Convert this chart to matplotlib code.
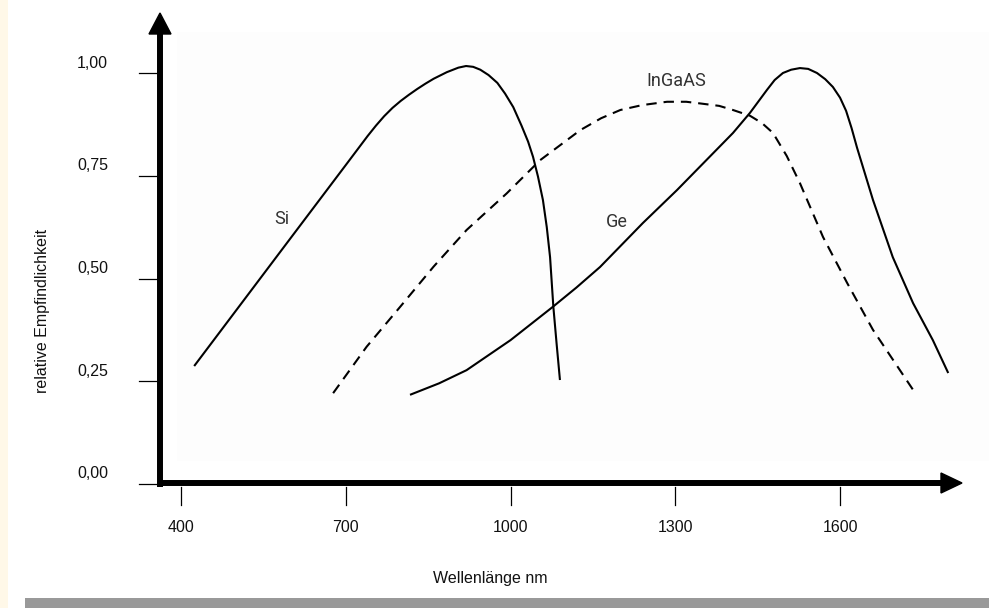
import matplotlib
matplotlib.use("Agg")
import matplotlib.pyplot as plt
from matplotlib.patches import Polygon, Rectangle
from matplotlib.transforms import blended_transform_factory

plt.rcParams['font.family'] = ['Liberation Sans', 'DejaVu Sans']
plt.rcParams['lines.scale_dashes'] = False

# ---- data ----
si_wl = [424, 600, 700, 740, 755, 770, 785, 800, 815, 830, 845, 860, 884, 905, 919,
         932, 945, 960, 976, 990, 1005, 1020, 1032, 1041, 1050, 1059, 1066, 1072, 1078,
         1084, 1090]
si_val = [0.287, 0.599, 0.776, 0.847, 0.872, 0.895, 0.915, 0.932, 0.947, 0.961, 0.974,
          0.986, 1.002, 1.013, 1.017, 1.015, 1.008, 0.995, 0.976, 0.950, 0.917, 0.872,
          0.833, 0.796, 0.748, 0.691, 0.625, 0.552, 0.431, 0.340, 0.253]

ge_wl = [817, 870, 920, 1000, 1077, 1120, 1163, 1241, 1303, 1405, 1436, 1467, 1481,
         1496, 1511, 1527, 1542, 1558, 1573, 1587, 1600, 1611, 1621, 1631, 1660, 1696,
         1733, 1769, 1797]
ge_val = [0.217, 0.245, 0.277, 0.350, 0.431, 0.478, 0.528, 0.635, 0.715, 0.854, 0.903,
          0.959, 0.983, 1.000, 1.008, 1.012, 1.010, 1.000, 0.985, 0.966, 0.940, 0.908,
          0.866, 0.818, 0.691, 0.552, 0.440, 0.350, 0.270]

ingaas_wl = [677, 738, 799, 860, 920, 993, 1054, 1127, 1165, 1200, 1240, 1285, 1320,
             1345, 1380, 1405, 1436, 1458, 1478, 1503, 1527, 1569, 1613, 1660, 1709, 1733]
ingaas_val = [0.221, 0.334, 0.431, 0.529, 0.618, 0.707, 0.788, 0.861, 0.890, 0.910,
              0.922, 0.930, 0.930, 0.926, 0.920, 0.910, 0.896, 0.878, 0.854, 0.798,
              0.732, 0.601, 0.489, 0.375, 0.277, 0.229]

x_ticks = [400, 700, 1000, 1300, 1600]
x_ticklabels = ['400', '700', '1000', '1300', '1600']
y_ticks = [0.0, 0.25, 0.5, 0.75, 1.0]
y_ticklabels = ['0,00', '0,25', '0,50', '0,75', '1,00']

W, H = 989, 608
fig = plt.figure(figsize=(W / 100, H / 100), dpi=100)
fig.patch.set_facecolor('white')

# background decorations
fig.patches.append(Rectangle((0, 0), 8 / W, 1, transform=fig.transFigure,
                             facecolor='#fff8e8', edgecolor='none', zorder=-10))
fig.patches.append(Rectangle((25 / W, 0), 1, 10 / H, transform=fig.transFigure,
                             facecolor='#999999', edgecolor='none', zorder=-10))
fig.patches.append(Rectangle((177 / W, (H - 461) / H), (W - 177) / W, (461 - 32) / H,
                             transform=fig.transFigure, facecolor='#fdfdfd',
                             edgecolor='none', zorder=-10))

# axes: x pixel 160..962, y pixel 484..13
ax = fig.add_axes([160 / W, (H - 484) / H, (962 - 160) / W, (484 - 13) / H])
ax.set_zorder(5)
ax.patch.set_alpha(0)
ppx = 0.5492  # px per nm
ax.set_xlim(400 - 21 / ppx, 400 + (962 - 181) / ppx)
ax.set_ylim(0, (484 - 13) / 411)
for s in ax.spines.values():
    s.set_visible(False)
ax.set_xticks([])
ax.set_yticks([])

lw = 1.5
ax.plot(si_wl, si_val, color='black', lw=lw, solid_capstyle='butt',
        solid_joinstyle='round', zorder=3)
ax.plot(ge_wl, ge_val, color='black', lw=lw, solid_capstyle='butt',
        solid_joinstyle='round', zorder=3)
ax.plot(ingaas_wl, ingaas_val, color='black', lw=lw, dashes=(7.5, 5), zorder=3)

# axis arrows (in pixel-based axes fractions)
axw, axh = 962 - 160, 484 - 13
thick = 4.3
ax.plot([0, 1 - 20 / axw], [1 / axh, 1 / axh], transform=ax.transAxes, color='black',
        lw=thick, clip_on=False, solid_capstyle='butt', zorder=4)
ax.plot([0, 0], [-3 / axh, 1 - 19 / axh], transform=ax.transAxes, color='black',
        lw=thick, clip_on=False, solid_capstyle='butt', zorder=4)
ax.add_patch(Polygon([[1, 1 / axh], [1 - 21 / axw, 11 / axh], [1 - 21 / axw, -9 / axh]],
                     closed=True, transform=ax.transAxes, color='black',
                     clip_on=False, zorder=4))
ax.add_patch(Polygon([[0, 1], [-11 / axw, 1 - 21 / axh], [11 / axw, 1 - 21 / axh]],
                     closed=True, transform=ax.transAxes, color='black',
                     clip_on=False, zorder=4))

# ticks and labels
tx = blended_transform_factory(ax.transData, ax.transAxes)
ty = blended_transform_factory(ax.transAxes, ax.transData)
fs = 11.5
for v, lab in zip(x_ticks, x_ticklabels):
    ax.plot([v, v], [-3 / axh, -21 / axh], transform=tx, color='black', lw=0.9,
            clip_on=False)
    ax.text(v, -44 / axh, lab, transform=tx, ha='center', va='center', fontsize=fs,
            color='#111111')
for v, lab in zip(y_ticks, y_ticklabels):
    ax.plot([-21 / axw, -2 / axw], [v, v], transform=ty, color='black', lw=0.9,
            clip_on=False)
    ax.text(-52 / axw, v + 10 / 411, lab, transform=ty, ha='right', va='center',
            fontsize=fs, color='#111111')

fig.text(43 / W, (H - 311) / H, 'relative Empfindlichkeit', rotation=90,
         ha='center', va='center', fontsize=fs, color='#111111')
fig.text(490 / W, (H - 578) / H, 'Wellenlänge nm', ha='center', va='center',
         fontsize=fs, color='#111111')

# curve labels
lab_kw = dict(ha='center', va='center', fontsize=13, color='#333333',
              family=['Roboto', 'DejaVu Sans'], fontweight='normal')
fig.text(282 / W, (H - 219) / H, 'Si', **lab_kw)
fig.text(617 / W, (H - 222) / H, 'Ge', **lab_kw)
fig.text(676 / W, (H - 81) / H, 'InGaAS', **lab_kw)

fig.savefig('out.png', dpi=100, facecolor='white')
